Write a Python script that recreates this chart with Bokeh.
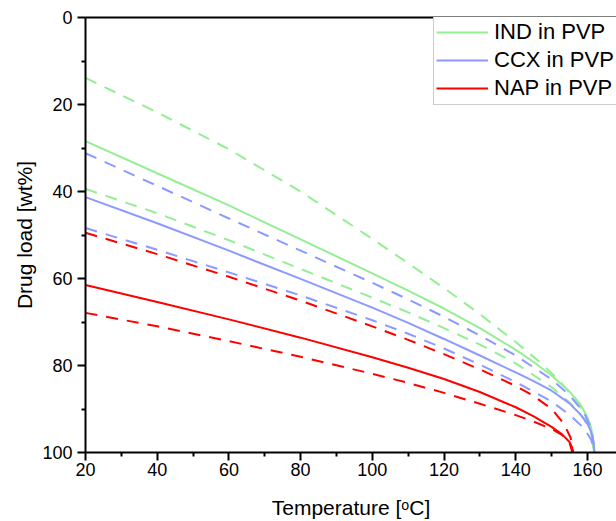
from bokeh.plotting import figure
from bokeh.models import Range1d, FixedTicker, Legend, LegendItem, LinearAxis
from bokeh.embed import file_html
from bokeh.resources import INLINE

# ---- data ----
# IND in PVP
ind_T = [20, 40, 60, 80, 100, 110, 120, 130, 140, 145, 150, 155, 158, 160, 161, 161.5, 161.8]
ind_load = [28.4, 35.8, 43.2, 51.0, 58.8, 62.8, 66.9, 71.4, 76.4, 79.2, 82.3, 86.0, 88.9, 91.9, 94.2, 96.5, 100]
ind_up_T = [20, 40, 60, 80, 100, 110, 120, 130, 140, 147, 152, 157, 159, 160.5, 161.3, 161.7]
ind_up_load = [13.9, 21.8, 30.3, 40.0, 50.9, 56.5, 62.2, 68.2, 74.6, 79.4, 83.3, 88.2, 90.8, 93.8, 96.5, 100]
ind_lo_T = [20, 40, 60, 80, 100, 110, 120, 130, 140, 150, 155, 159, 161, 161.6, 161.9]
ind_lo_load = [39.4, 45.0, 51.2, 57.8, 64.4, 67.8, 71.4, 75.2, 79.5, 85.0, 88.5, 92.2, 95.5, 97.8, 100]

# CCX in PVP
ccx_T = [20, 40, 60, 80, 100, 110, 120, 130, 140, 145, 150, 155, 158, 160, 161, 161.6, 162]
ccx_load = [41.3, 47.3, 53.6, 60.1, 66.7, 70.2, 73.9, 77.7, 81.6, 83.6, 85.8, 88.7, 91.2, 93.4, 95.2, 97.4, 100]
ccx_up_T = [20, 40, 60, 80, 100, 110, 120, 130, 140, 150, 155, 159, 161, 161.7, 162]
ccx_up_load = [31.2, 38.7, 46.2, 53.6, 61.0, 64.8, 68.8, 73.1, 77.7, 83.2, 86.8, 90.8, 94.3, 97.5, 100]
ccx_lo_T = [20, 40, 60, 80, 100, 110, 120, 130, 140, 150, 155, 159, 161, 161.7, 162]
ccx_lo_load = [48.4, 53.4, 58.6, 63.9, 69.6, 72.7, 76.1, 79.8, 83.8, 88.3, 91.3, 94.4, 97.0, 98.8, 100]

# NAP in PVP
nap_T = [20, 40, 60, 80, 100, 110, 120, 130, 140, 145, 150, 153, 155, 155.7, 156]
nap_load = [61.5, 65.4, 69.4, 73.6, 78.1, 80.5, 83.1, 86.1, 89.6, 91.7, 94.1, 95.9, 97.6, 98.8, 100]
nap_up_T = [20, 40, 60, 80, 100, 110, 120, 130, 140, 145, 150, 153.5, 155.3, 156]
nap_up_load = [49.5, 54.4, 59.6, 65.1, 71.0, 74.1, 77.4, 80.9, 84.7, 87.0, 90.0, 93.5, 96.6, 100]
nap_lo_T = [20, 40, 60, 80, 100, 110, 120, 130, 140, 145, 150, 153, 155, 155.8]
nap_lo_load = [67.9, 71.0, 74.4, 78.0, 81.9, 84.0, 86.3, 88.8, 91.4, 92.9, 94.6, 96.0, 97.8, 100]

x_major = [20, 40, 60, 80, 100, 120, 140, 160]
x_minor = [30, 50, 70, 90, 110, 130, 150, 170]
y_major = [0, 20, 40, 60, 80, 100]
y_minor = [10, 30, 50, 70, 90]

GREEN = "#94EE94"
BLUE = "#8C9AFF"
RED = "#FF0000"
FONT = "Liberation Sans"

p = figure(width=616, height=521, output_backend="svg", toolbar_location=None,
           x_range=Range1d(20, 168.1), y_range=Range1d(100, 0),
           min_border_left=85, min_border_right=0, min_border_top=17, min_border_bottom=69)
p.outline_line_color = None
p.xgrid.visible = False
p.ygrid.visible = False
p.background_fill_color = "white"
p.border_fill_color = "white"

DASH = "12 9"
W = 2
r_ind = p.line(ind_T, ind_load, line_color=GREEN, line_width=W)
p.line(ind_up_T, ind_up_load, line_color=GREEN, line_width=W, line_dash=DASH)
p.line(ind_lo_T, ind_lo_load, line_color=GREEN, line_width=W, line_dash=DASH)
r_ccx = p.line(ccx_T, ccx_load, line_color=BLUE, line_width=W)
p.line(ccx_up_T, ccx_up_load, line_color=BLUE, line_width=W, line_dash=DASH)
p.line(ccx_lo_T, ccx_lo_load, line_color=BLUE, line_width=W, line_dash=DASH)
r_nap = p.line(nap_T, nap_load, line_color=RED, line_width=W)
p.line(nap_up_T, nap_up_load, line_color=RED, line_width=W, line_dash=DASH)
p.line(nap_lo_T, nap_lo_load, line_color=RED, line_width=W, line_dash=DASH)

for ax, maj, mnr in ((p.xaxis[0], x_major, x_minor), (p.yaxis[0], y_major, y_minor)):
    ax.ticker = FixedTicker(ticks=maj, minor_ticks=mnr)
    ax.axis_line_width = 2
    ax.axis_line_color = "black"
    ax.major_tick_line_width = 2
    ax.minor_tick_line_width = 2
    ax.major_tick_out = 8
    ax.major_tick_in = 0
    ax.minor_tick_out = 4
    ax.minor_tick_in = 0
    ax.major_label_text_font = FONT
    ax.major_label_text_font_size = "18px"
    ax.major_label_text_color = "black"
    ax.axis_label_text_font = FONT
    ax.axis_label_text_font_size = "21px"
    ax.axis_label_text_font_style = "normal"
    ax.axis_label_text_color = "black"

p.xaxis.axis_label = "Temperature [\u1d52C]"
p.yaxis.axis_label = "Drug load [wt%]"
p.xaxis.major_label_standoff = 2
p.xaxis.axis_label_standoff = 17
p.yaxis.major_label_standoff = 5
p.yaxis.axis_label_standoff = 3

top = LinearAxis(ticker=FixedTicker(ticks=[]), axis_line_width=2, axis_line_color="black",
                 major_tick_line_color=None, minor_tick_line_color=None,
                 major_label_text_font_size="0px", major_label_standoff=0)
p.add_layout(top, "above")

legend = Legend(items=[LegendItem(label="IND in PVP", renderers=[r_ind]),
                       LegendItem(label="CCX in PVP", renderers=[r_ccx]),
                       LegendItem(label="NAP in PVP", renderers=[r_nap])],
                location=(348, 347))
legend.label_text_font = FONT
legend.label_text_font_size = "22px"
legend.label_text_color = "black"
legend.glyph_width = 52
legend.glyph_height = 28
legend.label_height = 28
legend.label_standoff = 6
legend.spacing = 0
legend.padding = 2
legend.margin = 0
legend.border_line_color = "#9a9a9a"
legend.border_line_width = 1.5
legend.background_fill_alpha = 1
p.add_layout(legend, "center")

open("out.html", "w").write(file_html(p, INLINE))
